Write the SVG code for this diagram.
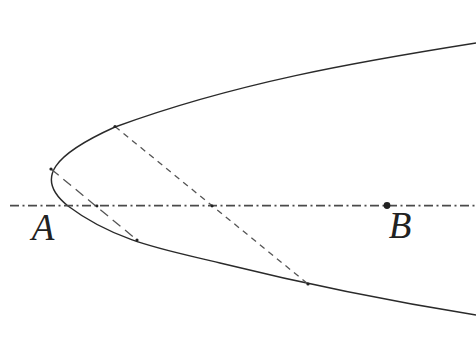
<svg xmlns="http://www.w3.org/2000/svg" width="476" height="364" viewBox="0 0 476 364">
<style>
.curve{fill:none;stroke:#2a2a2a;stroke-width:1.4}
.axis{fill:none;stroke:#4a4a4a;stroke-width:1.8;stroke-dasharray:9 3.5 2 3.5}
.chord1{fill:none;stroke:#555;stroke-width:1.3;stroke-dasharray:10 6}
.chord2{fill:none;stroke:#555;stroke-width:1.3;stroke-dasharray:6 5}
.pt{fill:#222}
.lbl{font-family:"Liberation Serif","DejaVu Serif",serif;font-style:italic;font-size:37px;fill:#222;text-anchor:middle}
</style>
<rect width="476" height="364" fill="#fff"/>
<g id="parabola">
<path class="curve" d="M476,43 C356,62 235,83 115,127 C55,154 33,178 68,206 C117,243 170,250.5 220,263 C305,284 391,301.4 476,315"/>
</g>
<g id="connectors">
<line class="axis" x1="10" y1="205.7" x2="476" y2="205.7"/>
<line class="chord1" x1="51" y1="169" x2="137" y2="240"/>
<line class="chord2" x1="115" y1="126.5" x2="308" y2="284"/>
</g>
<g id="points">
<circle class="pt" cx="51" cy="169" r="1.6"/>
<circle class="pt" cx="115" cy="126.5" r="1.6"/>
<circle class="pt" cx="137" cy="240" r="1.6"/>
<circle class="pt" cx="308" cy="284" r="1.6"/>
<circle class="pt" cx="97" cy="206" r="1.4"/>
<circle class="pt" cx="212" cy="206" r="1.4"/>
</g>
<g id="A"><text class="lbl" x="43" y="240">A</text></g>
<g id="B"><circle class="pt" cx="387" cy="205.5" r="3.4"/><text class="lbl" x="400" y="238">B</text></g>
</svg>
